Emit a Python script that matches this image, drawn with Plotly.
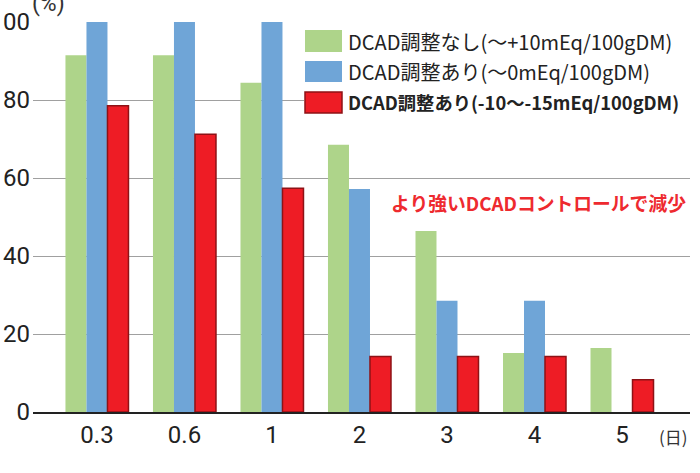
import plotly.graph_objects as go

categories = ["0.3", "0.6", "1", "2", "3", "4", "5"]
no_adjust = [91.5, 91.5, 84.4, 68.5, 46.4, 15.1, 16.4]
adjust_0 = [100, 100, 100, 57.2, 28.5, 28.5, 0]
adjust_neg = [78.5, 71.2, 57.4, 14.2, 14.2, 14.2, 8.3]
y_ticks = [0, 20, 40, 60, 80, 100]
series_names = [
    "DCAD調整なし(〜+10mEq/100gDM)",
    "DCAD調整あり(〜0mEq/100gDM)",
    "DCAD調整あり(-10〜-15mEq/100gDM)",
]

W, H = 700, 473
L, R, T, B = 33, 690, 22, 412

def px(x):
    return (x - L) / (R - L)

def py(y):
    return (B - y) / (B - T)

GREEN = "#AED48A"
BLUE = "#6FA5D7"
RED = "#EE1C25"
REDLINE = "#8E1216"
JP = "Noto Sans CJK JP"

fig = go.Figure()
fig.add_bar(x=list(range(len(categories))), y=no_adjust, name=series_names[0],
            marker=dict(color=GREEN, line=dict(width=0)))
fig.add_bar(x=list(range(len(categories))), y=adjust_0, name=series_names[1],
            marker=dict(color=BLUE, line=dict(width=0)))
fig.add_bar(x=list(range(len(categories))), y=adjust_neg, name=series_names[2],
            marker=dict(color=RED, line=dict(width=1.5, color=REDLINE)))

shapes = []
annotations = []

# legend background and swatches
shapes.append(dict(type="rect", xref="paper", yref="paper", x0=px(304), x1=px(700),
                   y0=py(117), y1=py(27), fillcolor="white", line=dict(width=0), layer="above"))
sw = [(30, 52, GREEN, None), (61, 82, BLUE, None), (92, 113, RED, REDLINE)]
for (y0, y1, c, lc) in sw:
    shapes.append(dict(type="rect", xref="paper", yref="paper", x0=px(305), x1=px(342),
                       y0=py(y1), y1=py(y0), fillcolor=c,
                       line=dict(width=1.5 if lc else 0, color=lc or c), layer="above"))
legend_sizes = [20, 20, 18.3]
for i, (name, yc) in enumerate(zip(series_names, [41, 71, 102])):
    annotations.append(dict(xref="paper", yref="paper", x=px(346), y=py(yc),
                            xanchor="left", yanchor="middle", showarrow=False,
                            text=("<b>%s</b>" % name) if i == 2 else name,
                            font=dict(family=JP, size=legend_sizes[i], color="#222")))

annotations.append(dict(xref="paper", yref="paper", x=px(389), y=py(202),
                        xanchor="left", yanchor="middle", showarrow=False,
                        text="<b>より強いDCADコントロールで減少</b>",
                        font=dict(family=JP, size=18.8, color="#EE2A2F")))
annotations.append(dict(xref="paper", yref="paper", x=px(30), y=py(4),
                        xanchor="left", yanchor="middle", showarrow=False,
                        text="(%)", font=dict(family="Roboto", size=23, color="#333")))
annotations.append(dict(xref="paper", yref="paper", x=px(657), y=py(436),
                        xanchor="left", yanchor="middle", showarrow=False,
                        text="(日)", font=dict(family=JP, size=17, color="#333")))
annotations.append(dict(xref="paper", yref="paper", x=px(211), y=py(467),
                        xanchor="left", yanchor="top", showarrow=False,
                        text="分娩後日数", font=dict(family=JP, size=24, color="#222")))

fig.update_layout(
    width=W, height=H,
    margin=dict(l=L, r=W - R, t=T, b=H - B, pad=0, autoexpand=False),
    paper_bgcolor="white", plot_bgcolor="white",
    barmode="group", bargap=0.28, bargroupgap=0,
    showlegend=False,
    shapes=shapes, annotations=annotations,
    xaxis=dict(range=[-0.731, 6.777], tickvals=list(range(len(categories))),
               ticktext=categories, showgrid=False, zeroline=False,
               showline=True, linecolor="#222", linewidth=1.5, ticks="",
               tickfont=dict(family="Roboto", size=24, color="#222"),
               automargin=False, fixedrange=True),
    yaxis=dict(range=[0, 100], tickvals=y_ticks, showgrid=True, gridcolor="#A0A0A0",
               gridwidth=1, zeroline=False, showline=False, ticks="",
               tickfont=dict(family="Roboto", size=24, color="#222"),
               ticklabelstandoff=2, automargin=False, fixedrange=True),
)

fig.write_html("out.html")
